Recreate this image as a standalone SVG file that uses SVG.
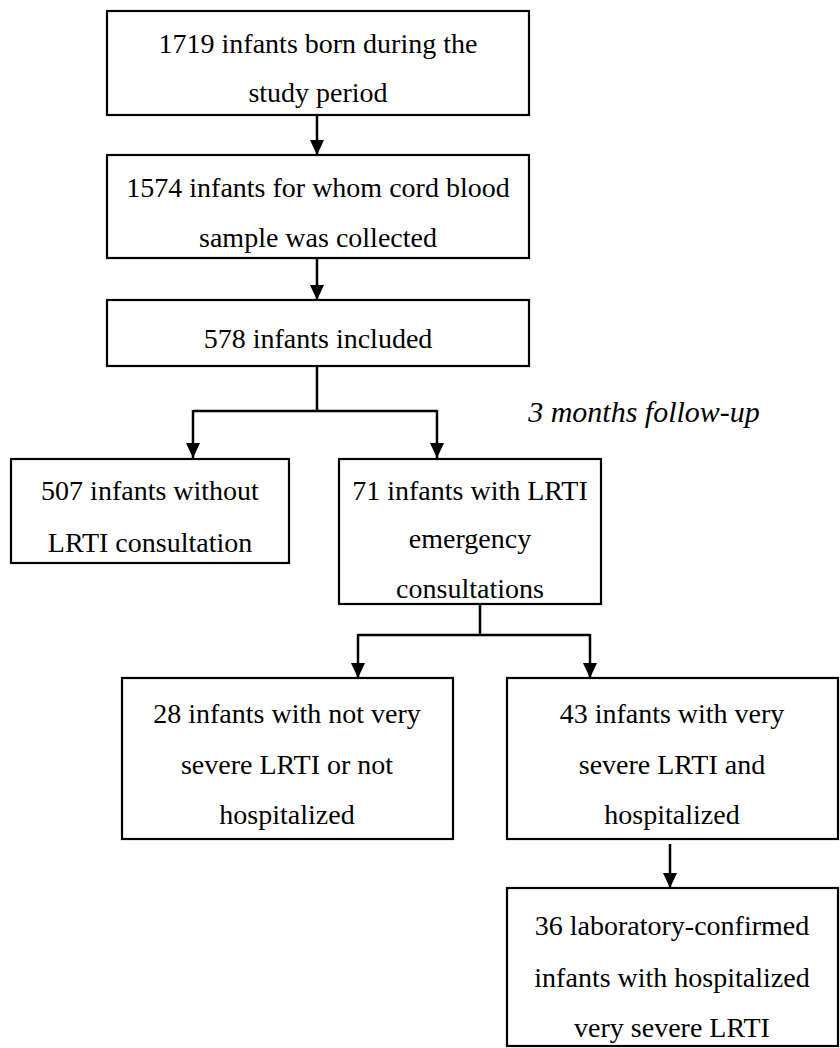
<svg xmlns="http://www.w3.org/2000/svg" width="840" height="1048" viewBox="0 0 840 1048">
<style>
.box{fill:#fff;stroke:#000;stroke-width:2.2}
.t{font-family:'Liberation Serif',Tinos,'Times New Roman','DejaVu Serif',serif;font-size:28px;fill:#000;text-anchor:middle}
.lbl{font-style:italic;font-size:30px}
.c{fill:none;stroke:#000;stroke-width:2.5}
</style>
<defs>
<marker id="ah" markerUnits="userSpaceOnUse" markerWidth="16" markerHeight="16" viewBox="0 0 16 16" refX="15" refY="8" orient="auto">
<path d="M0,1 L15,8 L0,15 Z" fill="#000"/>
</marker>
</defs>
<rect width="840" height="1048" fill="#fff"/>
<g id="connectors">
<line class="c" x1="317" y1="115" x2="317" y2="155" marker-end="url(#ah)"/>
<line class="c" x1="317" y1="258" x2="317" y2="300" marker-end="url(#ah)"/>
<polyline class="c" points="317,366 317,411"/>
<polyline class="c" points="193,411 437,411"/>
<line class="c" x1="193" y1="410" x2="193" y2="458" marker-end="url(#ah)"/>
<line class="c" x1="437" y1="410" x2="437" y2="458" marker-end="url(#ah)"/>
<polyline class="c" points="480,604 480,635"/>
<polyline class="c" points="358,635 590,635"/>
<line class="c" x1="358" y1="634" x2="358" y2="678" marker-end="url(#ah)"/>
<line class="c" x1="590" y1="634" x2="590" y2="678" marker-end="url(#ah)"/>
<line class="c" x1="670" y1="844" x2="670" y2="888" marker-end="url(#ah)"/>
</g>
<g id="n1"><rect class="box" x="107" y="11" width="422" height="104"/>
<text class="t" x="318" y="53">1719 infants born during the</text>
<text class="t" x="318" y="102">study period</text></g>
<g id="n2"><rect class="box" x="107" y="155" width="422" height="103"/>
<text class="t" x="318" y="197">1574 infants for whom cord blood</text>
<text class="t" x="318" y="247">sample was collected</text></g>
<g id="n3"><rect class="box" x="107" y="300" width="422" height="66"/>
<text class="t" x="318" y="348">578 infants included</text></g>
<g id="label"><text class="t lbl" x="644" y="422">3 months follow-up</text></g>
<g id="n4"><rect class="box" x="11" y="459" width="278" height="104"/>
<text class="t" x="150" y="500">507 infants without</text>
<text class="t" x="150" y="552">LRTI consultation</text></g>
<g id="n5"><rect class="box" x="339" y="459" width="262" height="145"/>
<text class="t" x="470" y="500">71 infants with LRTI</text>
<text class="t" x="470" y="548">emergency</text>
<text class="t" x="470" y="598">consultations</text></g>
<g id="n6"><rect class="box" x="122" y="678" width="331" height="161"/>
<text class="t" x="287" y="723">28 infants with not very</text>
<text class="t" x="287" y="774">severe LRTI or not</text>
<text class="t" x="287" y="824">hospitalized</text></g>
<g id="n7"><rect class="box" x="507" y="678" width="331" height="161"/>
<text class="t" x="672" y="723">43 infants with very</text>
<text class="t" x="672" y="774">severe LRTI and</text>
<text class="t" x="672" y="824">hospitalized</text></g>
<g id="n8"><rect class="box" x="507" y="888" width="331" height="158"/>
<text class="t" x="672" y="935">36 laboratory-confirmed</text>
<text class="t" x="672" y="987">infants with hospitalized</text>
<text class="t" x="672" y="1037">very severe LRTI</text></g>
</svg>
